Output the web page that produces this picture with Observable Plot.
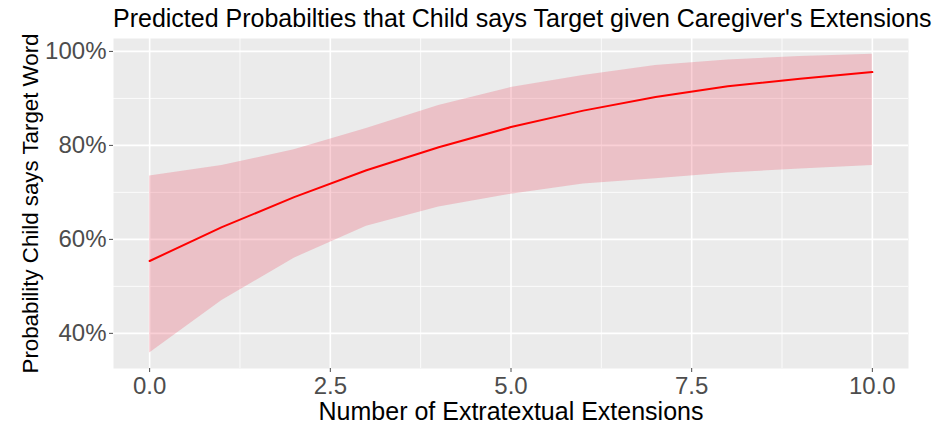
<!DOCTYPE html>
<html>
<head>
<meta charset="utf-8">
<script src="https://cdn.jsdelivr.net/npm/d3@7"></script>
<script src="https://cdn.jsdelivr.net/npm/@observablehq/plot@0.6"></script>
<style>
  body { margin: 0; background: #fff; font-family: "Liberation Sans", Arial, sans-serif; }
  #title { height: 28px; line-height: 36px; font-size: 25px; color: #000; padding-left: 113px; white-space: nowrap; overflow: visible; }
  svg { display: block; }
</style>
</head>
<body>
<div id="title">Predicted Probabilties that Child says Target given Caregiver's Extensions</div>
<div id="chart"></div>
<script>
const extensions = [0, 1, 2, 3, 4, 5, 6, 7, 8, 9, 10];
const predicted  = [0.554, 0.626, 0.690, 0.747, 0.796, 0.839, 0.874, 0.903, 0.926, 0.942, 0.956];
const lower      = [0.358, 0.470, 0.560, 0.628, 0.669, 0.696, 0.718, 0.729, 0.741, 0.750, 0.757];
const upper      = [0.735, 0.757, 0.791, 0.836, 0.885, 0.923, 0.949, 0.970, 0.982, 0.989, 0.994];

const xTicks = [0, 2.5, 5, 7.5, 10];
const xMinor = [1.25, 3.75, 6.25, 8.75];
const yTicks = [0.4, 0.6, 0.8, 1.0];
const yMinor = [0.5, 0.7, 0.9];

const xTitle = ["Number of Extratextual Extensions"];
const yTitle = ["Probability Child says Target Word"];

const data = extensions.map((x, i) => ({x, fit: predicted[i], lo: lower[i], hi: upper[i]}));

const chart = Plot.plot({
  width: 950,
  height: 396,
  marginLeft: 113,
  marginRight: 42,
  marginTop: 10,
  marginBottom: 56,
  style: {fontFamily: "Liberation Sans, Arial, sans-serif", background: "transparent", overflow: "visible"},
  x: {domain: [-0.5, 10.5]},
  y: {domain: [0.3252, 1.0275]},
  marks: [
    Plot.frame({fill: "#EBEBEB", stroke: null}),
    Plot.ruleX(xMinor, {stroke: "#fff", strokeWidth: 0.8}),
    Plot.ruleY(yMinor, {stroke: "#fff", strokeWidth: 0.8}),
    Plot.ruleX(xTicks, {stroke: "#fff", strokeWidth: 1.6}),
    Plot.ruleY(yTicks, {stroke: "#fff", strokeWidth: 1.6}),
    Plot.areaY(data, {x: "x", y1: "lo", y2: "hi", fill: "#EB435B", fillOpacity: 0.25}),
    Plot.line(data, {x: "x", y: "fit", stroke: "#FF0000", strokeWidth: 2}),
    Plot.axisX({ticks: xTicks, tickFormat: d3.format(".1f"), tickSize: 4, tickPadding: 4, fontSize: 24, color: "#4D4D4D", label: null}),
    Plot.axisY({ticks: yTicks, tickFormat: d3.format(".0%"), tickSize: 4, tickPadding: 3, fontSize: 24, color: "#4D4D4D", label: null}),
    Plot.text(xTitle, {text: d => d, frameAnchor: "bottom", dy: 43, textAnchor: "middle", lineAnchor: "middle", fontSize: 25, fill: "#000"}),
    Plot.text(yTitle, {text: d => d, frameAnchor: "left", dx: -83, rotate: -90, textAnchor: "middle", lineAnchor: "middle", fontSize: 22.3, fill: "#000"})
  ]
});
document.getElementById("chart").appendChild(chart);
</script>
</body>
</html>
